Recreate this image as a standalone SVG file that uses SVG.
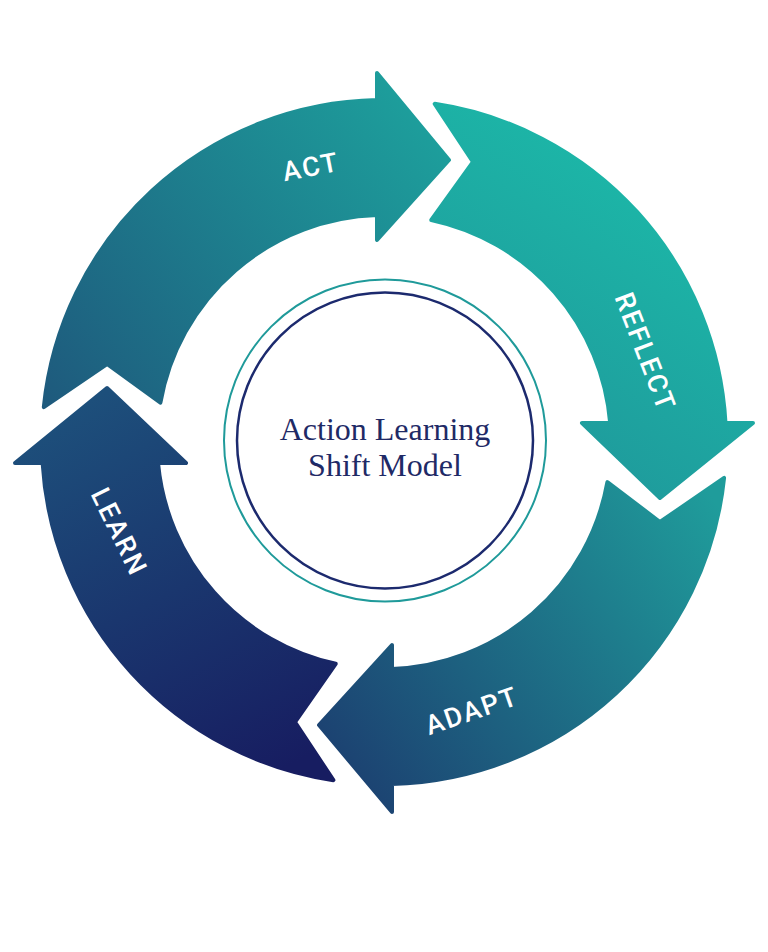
<svg xmlns="http://www.w3.org/2000/svg" width="768" height="952" viewBox="0 0 768 952">
  <defs>
    <linearGradient id="gAct" gradientUnits="userSpaceOnUse" x1="60" y1="420" x2="440" y2="130">
      <stop offset="0" stop-color="#1e5a7d"/>
      <stop offset="1" stop-color="#1d9f9c"/>
    </linearGradient>
    <linearGradient id="gReflect" gradientUnits="userSpaceOnUse" x1="700" y1="200" x2="520" y2="460">
      <stop offset="0" stop-color="#1cb8a8"/>
      <stop offset="1" stop-color="#1f989b"/>
    </linearGradient>
    <linearGradient id="gAdapt" gradientUnits="userSpaceOnUse" x1="700" y1="480" x2="330" y2="740">
      <stop offset="0" stop-color="#1f9c9b"/>
      <stop offset="1" stop-color="#1c4372"/>
    </linearGradient>
    <linearGradient id="gLearn" gradientUnits="userSpaceOnUse" x1="110" y1="390" x2="300" y2="760">
      <stop offset="0" stop-color="#1d4f7b"/>
      <stop offset="1" stop-color="#171d61"/>
    </linearGradient>
  </defs>
  <style>
    .arrow { stroke-width: 4; stroke-linejoin: round; }
    .label { font-family: Roboto, "Liberation Sans", sans-serif; font-size: 27px; font-weight: 500; fill: #ffffff; letter-spacing: 2px; text-anchor: middle; dominant-baseline: central; }
    .title { font-family: "Liberation Serif", "DejaVu Serif", serif; font-size: 32px; fill: #1f2a66; text-anchor: middle; }
  </style>
  <rect width="768" height="952" fill="#ffffff"/>
  <g id="connectors">
    <g id="act">
      <path class="arrow" fill="url(#gAct)" stroke="url(#gAct)" d="M43.8,407.1 A342,342 0 0 1 377,100.1 L377,73 L449,160 L377,240 L377,215.1 A227,227 0 0 0 160.4,402.7 L107,364 Z"/>
      <text class="label" transform="translate(311,167) rotate(-11)">ACT</text>
    </g>
    <g id="reflect">
      <path class="arrow" fill="url(#gReflect)" stroke="url(#gReflect)" d="M434.7,103.8 A342,342 0 0 1 725.5,423 L753,423 L660,498 L582,423 L610.2,423 A227,227 0 0 0 431.3,220 L473,162 Z"/>
      <text class="label" transform="translate(645,352) rotate(69)">REFLECT</text>
    </g>
    <g id="adapt">
      <path class="arrow" fill="url(#gAdapt)" stroke="url(#gAdapt)" d="M724.1,477.9 A342,342 0 0 1 392,783.9 L392,812 L319,725 L392,645 L392,668.9 A227,227 0 0 0 607.4,482.1 L660,522 Z"/>
      <text class="label" transform="translate(472,711) rotate(-19)">ADAPT</text>
    </g>
    <g id="learn">
      <path class="arrow" fill="url(#gLearn)" stroke="url(#gLearn)" d="M333.4,780.2 A342,342 0 0 1 42.6,463 L15,463 L107,388 L186,463 L158,463 A227,227 0 0 0 335.7,663.8 L295,722 Z"/>
      <text class="label" transform="translate(119,532) rotate(64)">LEARN</text>
    </g>
  </g>
  <g id="center">
    <circle cx="385" cy="440.5" r="161" fill="#ffffff" stroke="#1f9a9a" stroke-width="2"/>
    <circle cx="385" cy="440.5" r="148" fill="none" stroke="#1c2a6e" stroke-width="2.5"/>
    <text class="title" x="385" y="440">Action Learning</text>
    <text class="title" x="385" y="476">Shift Model</text>
  </g>
</svg>
